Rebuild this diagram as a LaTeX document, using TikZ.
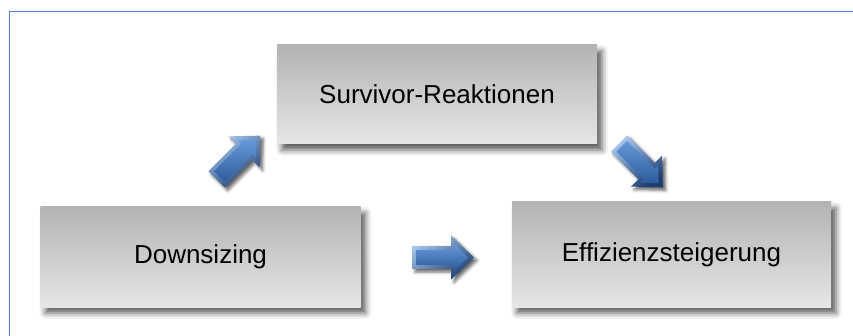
\documentclass[tikz,border=0pt]{standalone}
\usepackage{fontspec}
\setmainfont{Liberation Sans}
\usetikzlibrary{shadows.blur}

\definecolor{framebl}{HTML}{4F83D4}
\definecolor{boxtop}{HTML}{B3B3B3}
\definecolor{boxbot}{HTML}{E6E6E6}
\definecolor{arlight}{HTML}{A6C6EE}
\definecolor{ardark}{HTML}{1C3E72}
\definecolor{arfacetop}{HTML}{6598DA}
\definecolor{arfacebot}{HTML}{2E5B9C}

\tikzset{
  panel/.style={
    minimum width=320pt, minimum height=100pt, inner sep=0pt,
    top color=boxtop, bottom color=boxbot,
    blur shadow={shadow xshift=5pt, shadow yshift=-6pt,
                 shadow blur radius=6pt, shadow opacity=65},
    font=\fontsize{26}{30}\selectfont},
  % bevelled block arrow lying along +x, tail at the origin
  pics/bevelarrow/.style={code={
    \path[blur shadow={shadow xshift=3pt, shadow yshift=-3pt,
                       shadow blur radius=3pt, shadow opacity=60},
          top color=arlight, bottom color=ardark, shading angle=35]
      (0,-11.5) -- (39,-11.5) -- (39,-22) -- (62,0) -- (39,22)
      -- (39,11.5) -- (0,11.5) -- cycle;
    \path[top color=arfacetop, bottom color=arfacebot]
      (4,-7.5) -- (43,-7.5) -- (43,-12.4) -- (56,0) -- (43,12.4)
      -- (43,7.5) -- (4,7.5) -- cycle;
  }}
}

\begin{document}
\begin{tikzpicture}[x=1pt, y=-1pt]
  \useasboundingbox (0,0) rectangle (853,336);

  % frame
  \draw[framebl, line width=1.6pt] (9.5,336) -- (9.5,11.5) -- (853,11.5);

  % boxes
  \node[panel, minimum height=99pt] (sur) at (437,94.5) {Survivor-Reaktionen};
  \node[panel] (down) at (200.5,257) {Downsizing};
  \node[panel, minimum width=319pt, minimum height=105pt] (eff) at (671.5,254.5) {Effizienzsteigerung};

  % arrow anchors
  \coordinate (a1) at (216.5,179.5);
  \coordinate (a2) at (412,257.5);
  \coordinate (a3) at (619,143.5);

  \pic[rotate=45] at (a1) {bevelarrow};
  \pic at (a2) {bevelarrow};
  \pic[rotate=-45] at (a3) {bevelarrow};
\end{tikzpicture}
\end{document}
